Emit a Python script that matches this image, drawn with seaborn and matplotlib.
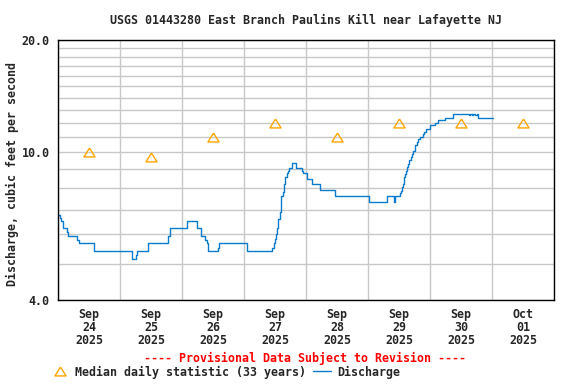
import pandas as pd
import numpy as np
import matplotlib
matplotlib.use("Agg")
import matplotlib.pyplot as plt
import matplotlib.dates as mdates
from matplotlib.ticker import FixedLocator, FuncFormatter, NullFormatter
from matplotlib.lines import Line2D
import seaborn as sns

# =========================
# 1. 数据
# =========================
q_times = [
    "2025-09-24 00:00", "2025-09-24 00:45", "2025-09-24 01:15", "2025-09-24 02:00",
    "2025-09-24 03:30", "2025-09-24 04:00", "2025-09-24 07:30", "2025-09-24 08:00",
    "2025-09-24 13:45", "2025-09-24 14:00", "2025-09-25 04:45", "2025-09-25 06:00",
    "2025-09-25 06:30", "2025-09-25 11:00", "2025-09-25 18:45", "2025-09-25 19:30",
    "2025-09-26 01:45", "2025-09-26 05:45", "2025-09-26 07:30", "2025-09-26 09:00",
    "2025-09-26 09:30", "2025-09-26 10:15", "2025-09-26 14:00", "2025-09-26 14:30",
    "2025-09-27 01:00", "2025-09-27 11:00", "2025-09-27 11:30", "2025-09-27 12:00",
    "2025-09-27 12:30", "2025-09-27 12:45", "2025-09-27 13:00", "2025-09-27 13:15",
    "2025-09-27 13:45", "2025-09-27 14:15", "2025-09-27 14:30", "2025-09-27 15:00",
    "2025-09-27 15:30", "2025-09-27 15:45", "2025-09-27 16:00", "2025-09-27 16:30",
    "2025-09-27 17:00", "2025-09-27 17:30", "2025-09-27 18:45", "2025-09-27 20:15",
    "2025-09-27 22:30", "2025-09-27 23:00", "2025-09-28 00:15", "2025-09-28 02:15",
    "2025-09-28 05:15", "2025-09-28 11:15", "2025-09-29 00:30", "2025-09-29 07:15",
    "2025-09-29 10:15", "2025-09-29 10:30", "2025-09-29 12:30", "2025-09-29 12:45",
    "2025-09-29 13:00", "2025-09-29 13:30", "2025-09-29 13:45", "2025-09-29 14:00",
    "2025-09-29 14:30", "2025-09-29 14:45", "2025-09-29 15:15", "2025-09-29 15:30",
    "2025-09-29 16:00", "2025-09-29 16:30", "2025-09-29 17:00", "2025-09-29 17:30",
    "2025-09-29 18:00", "2025-09-29 18:15", "2025-09-29 19:00", "2025-09-29 19:30",
    "2025-09-29 20:15", "2025-09-29 21:15", "2025-09-29 21:45", "2025-09-29 22:30",
    "2025-09-30 00:00", "2025-09-30 02:00", "2025-09-30 03:15", "2025-09-30 05:45",
    "2025-09-30 08:45", "2025-09-30 15:00", "2025-09-30 15:30", "2025-09-30 16:15",
    "2025-09-30 16:45", "2025-09-30 17:30", "2025-09-30 18:00", "2025-09-30 18:45",
    "2025-10-01 00:30",
]
q_values = [
    6.77, 6.65, 6.53, 6.24,
    6.10, 5.95, 5.80, 5.69,
    5.53, 5.41, 5.15, 5.30,
    5.41, 5.69, 5.95, 6.24,
    6.52, 6.24, 5.95, 5.80,
    5.69, 5.41, 5.53, 5.69,
    5.41, 5.53, 5.69, 5.83,
    6.01, 6.24, 6.40, 6.60,
    6.88, 7.25, 7.63, 7.79,
    8.21, 8.38, 8.59, 8.77,
    8.88, 9.06, 9.35, 9.06,
    8.91, 8.77, 8.47, 8.21,
    7.91, 7.63, 7.35, 7.63,
    7.35, 7.63, 7.76, 7.87,
    8.04, 8.21, 8.38, 8.55,
    8.73, 8.91, 9.10, 9.29,
    9.49, 9.68, 9.89, 10.03,
    10.24, 10.41, 10.63, 10.85,
    10.96, 11.15, 11.31, 11.50,
    11.79, 11.99, 12.16, 12.37,
    12.68, 12.54, 12.68, 12.54,
    12.68, 12.54, 12.68, 12.37,
    12.37,
]

median_dates = ["2025-09-24 12:00", "2025-09-25 12:00", "2025-09-26 12:00", "2025-09-27 12:00",
                "2025-09-28 12:00", "2025-09-29 12:00", "2025-09-30 12:00", "2025-10-01 12:00"]
median_values = [10.0, 9.7, 11.0, 12.0, 11.0, 12.0, 12.0, 12.0]

y_major = [4, 10, 20]
y_minor = [5, 6, 7, 8, 9, 11, 12, 13, 14, 15, 16, 17, 18, 19]

title = "USGS 01443280 East Branch Paulins Kill near Lafayette NJ"
ylabel = "Discharge, cubic feet per second"
note = "---- Provisional Data Subject to Revision ----"
leg_median = "Median daily statistic (33 years)"
leg_q = "Discharge"

df_q = pd.DataFrame({"time": pd.to_datetime(q_times), "discharge": q_values})
df_m = pd.DataFrame({"date": pd.to_datetime(median_dates), "median": median_values})

# =========================
# 2. 绘图
# =========================
sns.set_style("white")
plt.rcParams["font.family"] = ["DejaVu Sans Mono"]
plt.rcParams["font.weight"] = "bold"
fs = 8.4
blue = "#0a7bcc"
orange = "#FFA500"
tri = [(0, 0.8), (-1, -0.8), (1, -0.8), (0, 0.8)]  # 扁一点的三角形

fig = plt.figure(figsize=(5.76, 3.84), dpi=100)
W, H = 576, 384
ax = fig.add_axes([58 / W, 1 - 300 / H, 496 / W, 260 / H])

sns.lineplot(data=df_q, x="time", y="discharge", drawstyle="steps-post",
             color=blue, lw=1, estimator=None, ax=ax)
sns.lineplot(data=df_m, x="date", y="median", marker=tri, linestyle="none",
             markersize=8, markerfacecolor="none", markeredgecolor=orange,
             markeredgewidth=1, estimator=None, ax=ax)

ax.set_yscale("log")
ax.set_ylim(4, 20)
ax.yaxis.set_major_locator(FixedLocator(y_major))
ax.yaxis.set_major_formatter(FuncFormatter(lambda v, p: f"{v:.1f}"))
ax.yaxis.set_minor_locator(FixedLocator(y_minor))
ax.yaxis.set_minor_formatter(NullFormatter())

ax.set_xlim(pd.Timestamp("2025-09-24 00:00"), pd.Timestamp("2025-10-02 00:00"))
ax.xaxis.set_major_locator(mdates.HourLocator(byhour=12))
ax.xaxis.set_major_formatter(mdates.DateFormatter("%b\n%d\n%Y"))
ax.xaxis.set_minor_locator(mdates.DayLocator())

ax.grid(False)
ax.grid(True, which="both", axis="y", color="#c8c8c8", lw=1)
ax.grid(True, which="minor", axis="x", color="#c8c8c8", lw=1)
ax.set_axisbelow(True)

ax.tick_params(which="both", length=0)
ax.tick_params(axis="x", pad=6, labelsize=fs)
ax.tick_params(axis="y", pad=6, labelsize=fs)
for lab in ax.get_xticklabels():
    lab.set_linespacing(1.0)
    lab.set_fontweight("bold")
for lab in ax.get_yticklabels():
    lab.set_fontweight("bold")

ax.set_xlabel("")
ax.set_ylabel("")
for sp in ax.spines.values():
    sp.set_color("black")
    sp.set_linewidth(1)

# 文字
fig.text(306 / W, 1 - 20 / H, title, ha="center", va="center", fontsize=fs, fontweight="bold")
fig.text(12 / W, 1 - 174 / H, ylabel, ha="center", va="center", rotation=90,
         fontsize=fs, fontweight="bold")
fig.text(305 / W, 1 - 358 / H, note, ha="center", va="center", fontsize=fs,
         fontweight="bold", color="#FF0000")

# 图例
fig.add_artist(Line2D([60 / W], [1 - 371 / H], marker=tri, markersize=8,
                      markerfacecolor="none", markeredgecolor=orange, markeredgewidth=1,
                      linestyle="none", transform=fig.transFigure))
fig.text(75 / W, 1 - 372 / H, leg_median, ha="left", va="center", fontsize=fs, fontweight="bold")
fig.add_artist(Line2D([313 / W, 331 / W], [1 - 371 / H, 1 - 371 / H], color=blue, lw=1,
                      transform=fig.transFigure))
fig.text(337 / W, 1 - 372 / H, leg_q, ha="left", va="center", fontsize=fs, fontweight="bold")

fig.savefig("out.png", dpi=100)
